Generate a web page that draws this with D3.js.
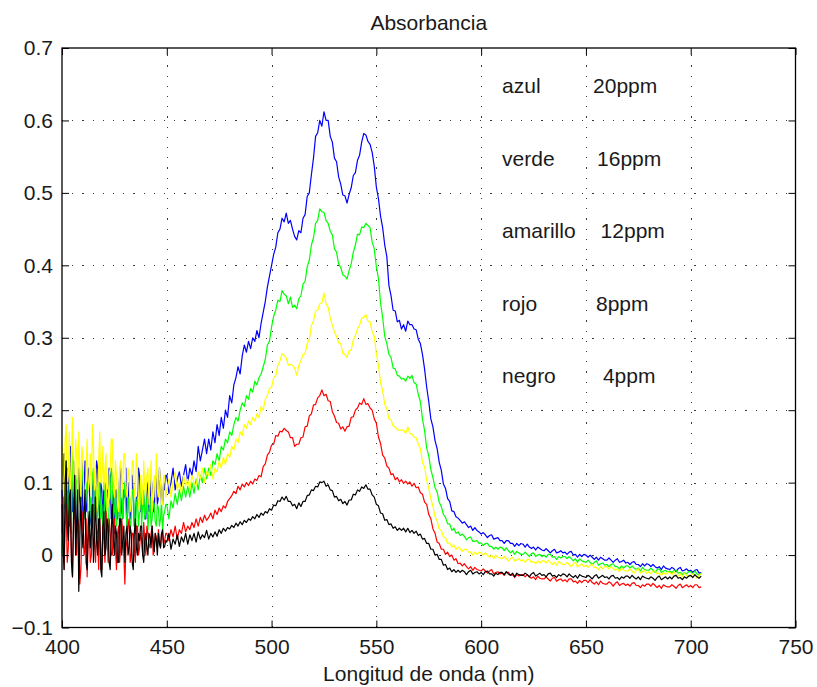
<!DOCTYPE html>
<html>
<head>
<meta charset="utf-8">
<script src="https://cdn.jsdelivr.net/npm/d3@7"></script>
<style>
  html, body { margin: 0; padding: 0; background: #fff; }
  svg text { font-family: "Liberation Sans", Arial, Helvetica, sans-serif; fill: #1a1a1a; }
</style>
</head>
<body>
<svg id="chart" width="817" height="687"></svg>
<script>
// Sampling grid: every 0.5 nm over the noisy 400–450 nm band, then every nm up to 705 nm
const wavelength = d3.range(400, 450, 0.5).concat(d3.range(450, 706));

// Absorbance spectra, one array per dye concentration
const azul = [
  .09,.04,.14,.07,.05,.12,.11,.04,.15,.09,.06,.13,.10,.05,.03,.10,.12,.06,.08,.13,
  .05,.09,.13,.06,.07,.12,.10,.05,.04,.09,.11,.06,.08,.13,.12,.07,.05,.10,.09,.04,
  .10,.07,.04,.09,.08,.12,.11,.05,.06,.10,.03,.08,.09,.05,.07,.11,.12,.06,.05,.09,
  .08,.12,.04,.07,.10,.05,.06,.11,.09,.04,.05,.08,.07,.12,.11,.06,.06,.09,.08,.05,
  .05,.09,.10,.06,.07,.11,.09,.06,.06,.10,.11,.07,.08,.12,.10,.07,.07,.10,.09,.11,
  .11,.085,.10,.12,.09,.105,.115,.095,.11,.125,
  .10,.12,.11,.13,.115,.15,.13,.145,.16,.14,
  .16,.145,.17,.155,.18,.165,.19,.175,.20,.19,
  .22,.21,.235,.245,.26,.25,.275,.29,.28,.295,
  .285,.30,.295,.31,.30,.32,.335,.35,.37,.385,
  .40,.415,.425,.445,.45,.465,.46,.472,.458,.462,
  .45,.44,.435,.448,.445,.465,.47,.495,.50,.525,
  .548,.578,.583,.60,.592,.612,.60,.60,.578,.57,
  .548,.543,.522,.512,.497,.496,.486,.498,.507,.524,
  .528,.545,.552,.57,.582,.58,.571,.567,.556,.537,
  .508,.492,.468,.452,.428,.412,.372,.358,.338,.337,
  .322,.324,.312,.318,.309,.323,.318,.318,.312,.311,
  .298,.292,.277,.257,.232,.212,.188,.177,.158,.147,
  .128,.117,.098,.092,.078,.074,.061,.060,.053,.051,
  .048,.044,.046,.042,.038,.040,.034,.038,.034,.032,
  .029,.031,.028,.024,.027,.028,.022,.023,.024,.020,
  .020,.016,.020,.020,.016,.016,.012,.016,.013,.016,
  .015,.011,.015,.011,.009,.011,.007,.011,.009,.007,
  .006,.009,.006,.003,.006,.008,.003,.004,.006,.003,
  .004,.001,.004,.005,.000,.001,-.003,.001,-.002,.001,
  .000,-.003,.000,-.003,-.006,-.003,-.007,-.003,-.005,-.007,
  -.007,-.004,-.007,-.010,-.007,-.005,-.010,-.009,-.007,-.011,
  -.010,-.013,-.010,-.009,-.013,-.013,-.016,-.012,-.015,-.012,
  -.013,-.016,-.013,-.016,-.018,-.016,-.020,-.015,-.018,-.019,
  -.020,-.017,-.019,-.023,-.019,-.017,-.022,-.021,-.019,-.022,
  -.021,-.024,-.021,-.020,-.025,-.024
];
const verde = [
  .00,.05,.08,.13,.12,.06,.04,.10,.09,.03,.15,.09,.05,.11,.10,.04,.03,.07,.08,.12,
  .11,.06,.05,.10,.09,.04,.02,.08,.07,.11,.12,.05,.06,.09,.04,.10,.10,.05,.07,.03,
  .05,.10,.09,.04,.03,.07,.08,.12,.11,.05,.06,.09,.04,.07,.09,.03,.07,.10,.05,.08,
  .10,.06,.04,.08,.07,.03,.05,.09,.09,.05,.03,.07,.08,.04,.06,.10,.04,.07,.09,.05,
  .06,.08,.035,.06,.08,.04,.05,.075,.07,.045,.04,.07,.065,.04,.05,.075,.03,.055,.06,.07,
  .07,.05,.075,.065,.085,.07,.09,.075,.095,.08,
  .095,.08,.10,.085,.105,.09,.11,.10,.12,.105,
  .12,.11,.13,.125,.14,.13,.15,.145,.16,.155,
  .17,.165,.18,.19,.185,.20,.21,.205,.22,.215,
  .23,.225,.24,.235,.245,.25,.26,.27,.29,.295,
  .315,.33,.338,.352,.35,.365,.36,.358,.347,.356,
  .342,.345,.34,.354,.358,.374,.378,.398,.407,.428,
  .438,.458,.462,.478,.474,.473,.462,.458,.447,.442,
  .423,.418,.402,.397,.387,.385,.381,.393,.402,.418,
  .428,.443,.442,.453,.452,.458,.455,.452,.432,.423,
  .398,.382,.348,.328,.302,.292,.277,.273,.258,.257,
  .248,.247,.243,.244,.24,.247,.244,.248,.238,.236,
  .222,.212,.188,.172,.148,.137,.118,.107,.093,.087,
  .073,.067,.056,.052,.043,.043,.034,.037,.030,.032,
  .027,.029,.026,.021,.024,.025,.019,.019,.020,.016,
  .017,.013,.016,.016,.012,.012,.008,.011,.008,.011,
  .010,.006,.010,.006,.003,.006,.001,.005,.003,.001,
  .001,.004,.001,-.002,.002,.003,-.002,.000,.001,-.002,
  .000,-.003,.001,.001,-.003,-.002,-.006,-.002,-.004,-.002,
  -.002,-.005,-.002,-.005,-.008,-.005,-.010,-.005,-.008,-.009,
  -.010,-.007,-.010,-.013,-.010,-.008,-.014,-.012,-.011,-.014,
  -.013,-.016,-.013,-.012,-.016,-.016,-.019,-.015,-.018,-.015,
  -.015,-.018,-.015,-.018,-.020,-.018,-.022,-.017,-.020,-.021,
  -.021,-.018,-.021,-.024,-.020,-.019,-.024,-.022,-.021,-.024,
  -.022,-.025,-.021,-.021,-.025,-.024,-.027,-.024,-.026,-.023,
  -.023,-.026,-.022,-.026,-.028,-.025
];
const amarillo = [
  .15,.10,.07,.16,.18,.09,.11,.17,.06,.13,.19,.08,.09,.16,.14,.07,.17,.12,.08,.15,
  .13,.07,.06,.12,.16,.09,.10,.14,.08,.18,.15,.09,.12,.06,.07,.13,.17,.10,.10,.15,
  .09,.12,.14,.06,.07,.11,.12,.16,.16,.09,.08,.13,.11,.07,.06,.12,.13,.08,.10,.14,
  .14,.09,.08,.12,.11,.06,.07,.13,.13,.08,.09,.14,.12,.07,.06,.11,.10,.07,.13,.09,
  .08,.11,.12,.07,.10,.13,.06,.09,.11,.08,.14,.09,.08,.12,.10,.07,.07,.11,.11,.08,
  .09,.105,.08,.10,.115,.09,.10,.085,.11,.095,
  .105,.09,.11,.10,.095,.115,.105,.12,.10,.115,
  .11,.125,.105,.12,.115,.13,.12,.135,.125,.14,
  .135,.15,.145,.16,.155,.17,.165,.18,.175,.185,
  .18,.19,.185,.195,.19,.205,.20,.215,.22,.23,
  .232,.245,.248,.262,.268,.278,.276,.272,.262,.263,
  .262,.258,.248,.262,.268,.277,.278,.292,.298,.317,
  .323,.337,.338,.347,.348,.362,.347,.342,.327,.317,
  .308,.302,.293,.292,.278,.277,.273,.282,.283,.297,
  .303,.312,.318,.327,.328,.332,.323,.322,.308,.302,
  .278,.262,.238,.227,.208,.202,.188,.187,.178,.177,
  .173,.172,.173,.172,.168,.177,.168,.167,.163,.162,
  .153,.147,.128,.122,.103,.092,.078,.067,.053,.047,
  .036,.034,.025,.024,.016,.017,.011,.014,.008,.011,
  .009,.005,.008,.008,.004,.004,.000,.004,.001,.004,
  .003,.000,.003,.000,-.003,.000,-.005,.000,-.003,-.004,
  -.005,-.002,-.005,-.008,-.005,-.003,-.008,-.007,-.005,-.008,
  -.007,-.010,-.006,-.006,-.010,-.009,-.012,-.008,-.011,-.008,
  -.008,-.011,-.007,-.010,-.013,-.010,-.014,-.009,-.011,-.013,
  -.013,-.010,-.013,-.016,-.012,-.010,-.016,-.014,-.012,-.016,
  -.014,-.017,-.014,-.013,-.017,-.017,-.020,-.016,-.019,-.016,
  -.016,-.019,-.016,-.019,-.021,-.019,-.023,-.018,-.021,-.022,
  -.022,-.019,-.022,-.025,-.021,-.019,-.025,-.023,-.021,-.025,
  -.023,-.026,-.022,-.022,-.026,-.025,-.028,-.024,-.027,-.024,
  -.024,-.027,-.023,-.027,-.029,-.026,-.030,-.025,-.028,-.029,
  -.029,-.026,-.028,-.032,-.028,-.026
];
const rojo = [
  .03,.08,-.02,.04,.07,-.01,.01,.06,.05,.00,-.03,.04,.09,.02,.00,.05,.04,-.04,-.02,.03,
  .06,.00,.01,.05,-.03,.02,.04,-.01,.00,.06,.07,.02,-.01,.04,.03,-.02,.05,.01,-.02,.04,
  .02,-.01,.06,.03,-.01,.05,.03,.00,.00,.04,.05,.01,-.02,.03,.04,-.01,.01,.05,.03,.00,
  -.04,.01,.02,.04,.05,-.01,.00,.03,.03,.01,-.01,.04,.04,.00,.01,.03,.02,.00,.045,.02,
  .00,.04,.03,.01,.015,.03,.04,.00,.005,.03,.025,.01,.035,.02,.01,.03,.03,.015,.02,.03,
  .03,.02,.035,.025,.04,.022,.035,.03,.045,.032,
  .04,.035,.045,.038,.05,.04,.052,.045,.055,.048,
  .052,.058,.05,.062,.056,.065,.06,.068,.065,.074,
  .078,.082,.088,.085,.095,.09,.098,.094,.10,.096,
  .102,.098,.105,.103,.11,.108,.122,.126,.138,.142,
  .152,.153,.165,.164,.171,.17,.175,.172,.17,.162,
  .162,.15,.153,.153,.162,.163,.177,.178,.192,.195,
  .207,.208,.217,.22,.228,.22,.222,.213,.212,.198,
  .192,.183,.182,.174,.177,.171,.177,.178,.19,.191,
  .20,.203,.21,.208,.216,.208,.209,.203,.20,.188,
  .182,.163,.154,.138,.134,.123,.12,.111,.112,.104,
  .107,.101,.104,.099,.102,.098,.101,.095,.099,.093,
  .094,.086,.084,.073,.07,.056,.05,.036,.03,.018,
  .016,.008,.008,.001,.004,-.002,.000,-.007,-.005,-.012,
  -.011,-.015,-.012,-.016,-.019,-.016,-.021,-.017,-.020,-.021,
  -.022,-.019,-.022,-.025,-.022,-.020,-.026,-.024,-.023,-.026,
  -.025,-.028,-.024,-.024,-.028,-.027,-.031,-.027,-.029,-.027,
  -.027,-.030,-.027,-.030,-.032,-.030,-.034,-.029,-.032,-.033,
  -.033,-.030,-.033,-.036,-.032,-.031,-.036,-.034,-.033,-.036,
  -.034,-.037,-.033,-.033,-.037,-.036,-.039,-.035,-.038,-.035,
  -.035,-.038,-.034,-.038,-.040,-.037,-.041,-.036,-.039,-.040,
  -.040,-.037,-.039,-.043,-.039,-.037,-.042,-.040,-.039,-.042,
  -.040,-.043,-.039,-.038,-.042,-.042,-.045,-.041,-.043,-.040,
  -.040,-.043,-.039,-.042,-.045,-.042,-.046,-.041,-.043,-.044,
  -.044,-.041,-.043,-.046,-.042,-.040,-.045,-.043,-.041,-.044,
  -.042,-.045,-.041,-.041,-.045,-.044
];
const negro = [
  .07,.01,-.02,.10,.13,.04,.02,.08,.09,-.01,-.03,.05,.11,.00,.04,.09,-.05,.02,.08,.03,
  .01,.06,.09,-.01,-.02,.04,.06,.01,.03,.07,-.01,.03,.08,.02,.00,.05,.05,-.02,-.03,.04,
  .06,.00,.01,.05,.04,-.01,-.02,.03,.07,.02,.00,.04,.03,-.01,-.01,.05,.05,.00,.02,.04,
  -.01,.03,.04,.00,.01,.04,.03,-.01,-.02,.03,.05,.01,.00,.03,.02,.04,.04,.00,-.01,.02,
  .03,.01,.00,.03,.025,.01,.04,.02,.005,.03,.02,.00,.03,.015,.01,.03,.035,.01,.012,.02,
  .018,.03,.008,.022,.015,.028,.012,.025,.018,.03,
  .015,.028,.02,.03,.018,.032,.022,.028,.024,.034,
  .022,.03,.025,.032,.026,.035,.03,.037,.033,.038,
  .036,.041,.038,.044,.04,.046,.042,.048,.045,.05,
  .048,.053,.05,.056,.052,.058,.055,.06,.058,.064,
  .062,.069,.068,.075,.074,.08,.076,.081,.074,.074,
  .068,.07,.064,.072,.067,.074,.074,.082,.083,.09,
  .089,.095,.094,.101,.10,.102,.095,.097,.09,.089,
  .08,.081,.075,.077,.071,.074,.069,.076,.076,.084,
  .083,.09,.088,.094,.092,.097,.091,.091,.083,.08,
  .07,.068,.058,.057,.048,.049,.042,.043,.037,.039,
  .034,.037,.034,.037,.032,.037,.031,.034,.03,.033,
  .027,.029,.022,.023,.016,.016,.008,.008,.000,.001,
  -.006,-.006,-.014,-.013,-.02,-.018,-.023,-.02,-.024,-.021,
  -.024,-.021,-.023,-.027,-.023,-.021,-.026,-.024,-.023,-.026,
  -.024,-.027,-.023,-.022,-.026,-.026,-.029,-.025,-.027,-.024,
  -.024,-.027,-.023,-.026,-.028,-.025,-.030,-.025,-.027,-.028,
  -.028,-.025,-.027,-.030,-.026,-.024,-.029,-.027,-.025,-.028,
  -.027,-.030,-.026,-.025,-.029,-.028,-.031,-.027,-.029,-.026,
  -.027,-.030,-.026,-.029,-.031,-.028,-.032,-.027,-.029,-.030,
  -.031,-.028,-.030,-.033,-.029,-.027,-.032,-.030,-.028,-.031,
  -.030,-.033,-.029,-.028,-.032,-.031,-.034,-.030,-.032,-.029,
  -.029,-.032,-.028,-.031,-.033,-.030,-.034,-.029,-.031,-.032,
  -.033,-.030,-.032,-.035,-.031,-.029,-.034,-.032,-.030,-.033,
  -.030,-.033,-.029,-.028,-.032,-.031,-.034,-.030,-.032,-.029,
  -.028,-.031,-.027,-.030,-.032,-.029
];

// Series labels (colour name, concentration) and line colours
const seriesNames  = ["azul", "verde", "amarillo", "rojo", "negro"];
const seriesConc   = ["20ppm", "16ppm", "12ppm", "8ppm", "4ppm"];
const seriesColors = ["#0000ff", "#00ff00", "#ffff00", "#ff0000", "#000000"];
const seriesValues = [azul, verde, amarillo, rojo, negro];

// Axis ticks
const xTicks = [400, 450, 500, 550, 600, 650, 700, 750];
const xTickLabels = ["400", "450", "500", "550", "600", "650", "700", "750"];
const yTicks = [-0.1, 0, 0.1, 0.2, 0.3, 0.4, 0.5, 0.6, 0.7];
const yTickLabels = ["\u22120.1", "0", "0.1", "0.2", "0.3", "0.4", "0.5", "0.6", "0.7"];

const titleText  = "Absorbancia";
const xLabelText = "Longitud de onda (nm)";

// ---- layout ----
const FONT = 21;
const box = { left: 62, right: 795.5, top: 48, bottom: 627.5 };
const svg = d3.select("#chart");

const x = d3.scaleLinear().domain([400, 750]).range([box.left, box.right]);
const y = d3.scaleLinear().domain([-0.1, 0.7]).range([box.bottom, box.top]);

// dotted grid
const grid = svg.append("g").attr("stroke", "#3a3a3a").attr("stroke-width", 1)
  .attr("stroke-dasharray", "1.2,9").attr("shape-rendering", "crispEdges");
grid.selectAll("line.gx").data(xTicks.slice(1, -1)).join("line")
  .attr("x1", d => Math.round(x(d)) + 0.5).attr("x2", d => Math.round(x(d)) + 0.5)
  .attr("y1", box.bottom).attr("y2", box.top);
grid.selectAll("line.gy").data(yTicks.slice(1, -1)).join("line")
  .attr("y1", d => Math.round(y(d)) + 0.5).attr("y2", d => Math.round(y(d)) + 0.5)
  .attr("x1", box.left).attr("x2", box.right);

// spectra, drawn blue first and black last
const line = d3.line().x((d, i) => x(wavelength[i])).y(d => y(d));
const drawOrder = [0, 1, 2, 3, 4];
svg.append("g").selectAll("path").data(drawOrder).join("path")
  .attr("fill", "none")
  .attr("stroke", i => seriesColors[i])
  .attr("stroke-width", 1.2)
  .attr("stroke-linejoin", "round")
  .attr("d", i => line(seriesValues[i]));

// axes with inward ticks on all four sides
function styleAxis(g) {
  g.select(".domain").remove();
  g.selectAll(".tick line").attr("stroke", "#000").attr("stroke-width", 1);
  g.selectAll(".tick text").attr("font-size", FONT).attr("fill", "#1a1a1a")
    .attr("font-family", "Liberation Sans, Arial, sans-serif");
}
svg.append("g").attr("transform", `translate(0,${box.bottom})`)
  .call(d3.axisBottom(x).tickValues(xTicks).tickSize(-7).tickPadding(12)
    .tickFormat((d, i) => xTickLabels[i]))
  .call(styleAxis);
svg.append("g").attr("transform", `translate(0,${box.top})`)
  .call(d3.axisTop(x).tickValues(xTicks).tickSize(-7).tickFormat(""))
  .call(styleAxis);
svg.append("g").attr("transform", `translate(${box.left},0)`)
  .call(d3.axisLeft(y).tickValues(yTicks).tickSize(-7).tickPadding(9)
    .tickFormat((d, i) => yTickLabels[i]))
  .call(styleAxis);
svg.append("g").attr("transform", `translate(${box.right},0)`)
  .call(d3.axisRight(y).tickValues(yTicks).tickSize(-7).tickFormat(""))
  .call(styleAxis);

// frame
svg.append("rect")
  .attr("x", box.left).attr("y", box.top)
  .attr("width", box.right - box.left).attr("height", box.bottom - box.top)
  .attr("fill", "none").attr("stroke", "#000").attr("stroke-width", 1.3);

// in-plot annotations: colour name and concentration
const noteX = 610;
const concX = [653.4, 655.3, 657, 654.8, 658.1];
const notes = svg.append("g").attr("font-size", FONT);
notes.selectAll("text.name").data(seriesNames).join("text")
  .attr("x", x(noteX)).attr("y", (d, i) => y(0.65 - 0.1 * i)).attr("dy", 9)
  .text(d => d);
notes.selectAll("text.conc").data(seriesConc).join("text")
  .attr("x", (d, i) => x(concX[i])).attr("y", (d, i) => y(0.65 - 0.1 * i)).attr("dy", 9)
  .text(d => d);

// title and axis label
svg.append("text").attr("x", (box.left + box.right) / 2).attr("y", 30)
  .attr("text-anchor", "middle").attr("font-size", FONT).text(titleText);
svg.append("text").attr("x", (box.left + box.right) / 2).attr("y", 681)
  .attr("text-anchor", "middle").attr("font-size", FONT).text(xLabelText);
</script>
</body>
</html>
